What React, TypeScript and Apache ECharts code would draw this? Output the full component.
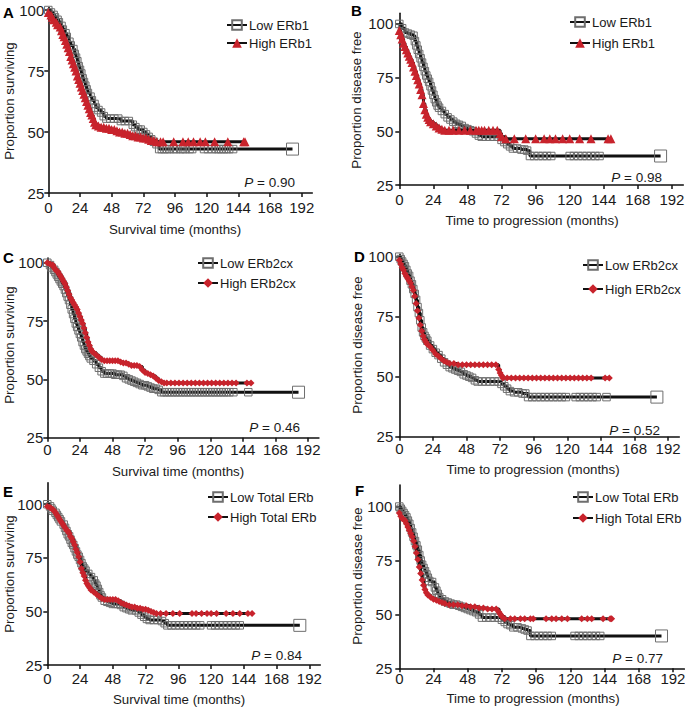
import React, { useEffect, useRef } from "react";
import * as echarts from "echarts";

// ---------- tick labels ----------
const X_TICKS = [0, 24, 48, 72, 96, 120, 144, 168, 192];
const Y_TICKS = [25, 50, 75, 100];

// ---------- text ----------
const PANEL_LETTERS = ["A", "B", "C", "D", "E", "F"];
const LOW_NAMES = ["Low ERb1", "Low ERb1", "Low ERb2cx", "Low ERb2cx", "Low Total ERb", "Low Total ERb"];
const HIGH_NAMES = ["High ERb1", "High ERb1", "High ERb2cx", "High ERb2cx", "High Total ERb", "High Total ERb"];
const P_VALUES = ["0.90", "0.98", "0.46", "0.52", "0.84", "0.77"];
const X_TITLES = [
  "Survival time (months)",
  "Time to progression (months)",
  "Survival time (months)",
  "Time to progression (months)",
  "Survival time (months)",
  "Time to progression (months)",
];
const Y_TITLES = [
  "Proportion surviving",
  "Proportion disease free",
  "Proportion surviving",
  "Proportion disease free",
  "Proportion surviving",
  "Proportion disease free",
];

// ---------- Kaplan-Meier curves: [months, percent] (events and censored points) ----------
const A_LOW = [[0,100],[2,99],[4,98],[5,97],[7,96],[8,95],[10,93.5],[11,92],[13,90.5],[14,89],[16,87],[17,85.5],[19,84],[20,82],[21,80.5],[22,79],[23,77],[24,75.5],[25,74],[26,72],[27,70.5],[28,69],[29,67.5],[30,66],[32,64.5],[33,63],[35,61.5],[36,60],[38,59],[40,58],[42,56.5],[44,55.5],[47,55.5],[50,55.5],[53,55.5],[55,54.5],[58,54.5],[61,54.5],[64,53],[66,52],[68,51],[70,51],[72,50],[74,49],[76,48],[78,47],[80,46],[82,45],[84,43],[86,43],[88,43],[90,43],[92,43],[95,43],[97,43],[100,43],[102,43],[104,43],[107,43],[109,43],[118,43],[121,43],[124,43],[127,43],[129,43],[131,43],[133,43],[135,43],[137,43],[140,43],[185,43]];
const A_HIGH = [[0,99],[2,98],[3,97],[4,96],[6,95],[7,94],[9,93],[10,91.5],[11,90],[12,89],[13,87.5],[14,86],[15,84.5],[16,83],[17,81],[18,79.5],[19,78],[20,76.5],[21,75],[22,73],[23,71.5],[24,70],[25,68.5],[26,67],[27,65.5],[28,64],[29,62.5],[30,61],[31,59.5],[32,58],[33,57],[34,55.5],[35,54],[36,53],[38,52.5],[40,52],[42,52],[44,51.5],[46,51.5],[48,51],[50,51],[52,50.5],[54,50],[56,50],[58,49.5],[60,49.5],[62,49],[64,48.5],[66,48.5],[68,48],[70,48],[72,47.5],[74,47.5],[76,47],[78,46.5],[80,46.5],[82,46],[85,46],[87,46],[95,46],[102,46],[106,46],[110,46],[115,46],[119,46],[126,46],[136,46],[148,46],[149,46]];

const B_LOW = [[0,100],[2,98],[4,96],[6,95.5],[8,95],[10,94.5],[11,92],[12,90],[13,88],[14,86],[15,84],[16,82],[17,80],[18,78],[19,76],[20,74.5],[21,73],[22,71],[23,69],[24,67],[25,65],[26,63.5],[27,62],[28,61],[30,59.5],[32,58],[34,56.5],[36,55.5],[38,54.5],[40,53.5],[42,53],[44,52.5],[46,51.5],[48,51],[50,50.5],[52,50],[54,49],[56,48],[58,47.5],[61,47.5],[64,47.5],[67,47.5],[70,47.5],[72,46],[74,45],[76,44],[78,43],[80,42],[83,42],[86,41.5],[88,41.5],[90,41],[92,38.5],[95,38.5],[98,38.5],[101,38.5],[104,38.5],[107,38.5],[120,38.5],[123,38.5],[126,38.5],[129,38.5],[132,38.5],[135,38.5],[138,38.5],[141,38.5],[184,38.5]];
const B_HIGH = [[0,97],[1,95],[2,93],[3,91],[4,89.5],[5,88],[6,86.5],[7,85],[8,83.5],[9,82],[10,80],[11,78],[12,76],[13,74],[14,72],[15,69.5],[16,67],[17,63],[18,60],[19,58],[20,56.5],[21,55.5],[22,54.5],[24,53.5],[26,52.5],[28,51.5],[30,51],[32,50.5],[35,50.5],[38,50.5],[42,50.5],[46,50.5],[50,50.5],[54,50.5],[56,50.5],[58,50.5],[60,50.5],[63,50.5],[66,50.5],[69,50.5],[71,49],[72,47.5],[75,46.5],[81,46.5],[89,46.5],[96,46.5],[102,46.5],[106,46.5],[110,46.5],[115,46.5],[120,46.5],[127,46.5],[135,46.5],[147,46.5],[149,46.5]];

const C_LOW = [[0,100],[2,99],[3,98],[5,97],[6,96],[7,95],[8,94],[9,93],[10,92],[11,91],[12,90],[13,88.5],[14,87],[15,85.5],[16,84],[17,82],[18,80],[19,78],[20,76],[21,74],[22,72.5],[23,71],[24,69.5],[25,68],[26,66],[27,64.5],[28,63],[29,62],[30,61],[31,60],[32,59],[34,58],[36,56.5],[38,55],[40,53.5],[42,52.5],[44,52.5],[46,52.5],[48,52.5],[50,52],[52,52],[54,52],[56,51.5],[58,50.5],[60,50],[62,49.5],[64,49],[66,48.5],[68,48],[70,47.5],[72,47.5],[74,47],[76,46.5],[78,46],[80,46],[82,45.5],[84,44.5],[86,44.5],[88,44.5],[90,44.5],[92,44.5],[94,44.5],[96,44.5],[98,44.5],[100,44.5],[102,44.5],[104,44.5],[106,44.5],[108,44.5],[110,44.5],[112,44.5],[114,44.5],[116,44.5],[118,44.5],[120,44.5],[122,44.5],[124,44.5],[126,44.5],[128,44.5],[130,44.5],[132,44.5],[134,44.5],[137,44.5],[148,44.5],[185,44.5]];
const C_HIGH = [[0,100],[2,99.5],[4,99],[5,98],[6,97],[7,96.5],[8,96],[9,95],[10,94],[11,93],[12,92],[13,91],[14,89.5],[15,88],[16,86.5],[17,85],[18,84],[19,83],[20,82],[21,81],[22,80],[23,78.5],[24,77],[25,75.5],[26,74],[27,72],[28,70],[29,68],[30,66],[31,64.5],[32,63],[33,62],[34,61.5],[36,60.5],[38,59.5],[40,58.5],[42,58],[44,58],[46,58],[48,58],[50,58],[52,58],[54,57.5],[56,57],[58,57],[60,56.5],[62,56],[64,56],[66,56],[68,55.5],[70,54],[72,53],[74,52.5],[76,52],[78,51.5],[80,50.5],[82,49.5],[84,49],[86,48.5],[88,48.5],[91,48.5],[94,48.5],[97,48.5],[100,48.5],[103,48.5],[106,48.5],[109,48.5],[112,48.5],[115,48.5],[118,48.5],[121,48.5],[124,48.5],[127,48.5],[130,48.5],[133,48.5],[136,48.5],[139,48.5],[147,48.5],[150,48.5]];

const D_LOW = [[0,100],[1,99],[2,98],[3,97],[4,96],[5,94.5],[6,93],[7,92],[8,90],[9,88.5],[10,86.5],[11,84.5],[12,82],[13,79],[14,76.5],[15,73.5],[16,70.5],[17,68.5],[18,67],[19,66],[20,65],[22,63],[24,61.5],[26,60],[28,59],[30,57.5],[32,56],[34,55],[36,54],[38,53.5],[40,53],[42,52.5],[44,52],[46,51],[48,50.5],[50,50],[52,49.5],[54,48.5],[56,48],[59,48],[62,48],[65,48],[68,48],[71,48],[73,47],[75,46],[77,45],[79,44],[82,43.5],[85,43.5],[88,43],[90,43],[92,41.5],[95,41.5],[98,41.5],[101,41.5],[104,41.5],[107,41.5],[110,41.5],[113,41.5],[116,41.5],[119,41.5],[126,41.5],[129,41.5],[132,41.5],[135,41.5],[138,41.5],[141,41.5],[148,41.5],[184,41.5]];
const D_HIGH = [[0,98.5],[1,97],[2,95.5],[3,94.5],[4,93],[5,92],[6,91],[7,90],[8,89],[9,87.5],[10,86],[11,83.5],[12,80.5],[13,77.5],[14,74.5],[15,71.5],[16,69],[17,67],[18,65.5],[19,64.5],[20,63.5],[22,62.5],[24,61],[26,59.5],[28,58.5],[30,57.5],[32,56.5],[34,56],[36,55.5],[39,55.5],[42,55],[45,55],[48,55],[51,55],[54,55],[57,55],[60,55],[63,55],[66,55],[69,55],[71,53],[72,51.5],[73,50.5],[74,49.5],[77,49.5],[80,49.5],[83,49.5],[86,49.5],[89,49.5],[92,49.5],[95,49.5],[98,49.5],[101,49.5],[104,49.5],[107,49.5],[110,49.5],[113,49.5],[116,49.5],[119,49.5],[122,49.5],[125,49.5],[128,49.5],[131,49.5],[134,49.5],[137,49.5],[147,49.5],[150,49.5]];

const E_LOW = [[0,100],[2,99],[3,98],[4,97],[6,96],[7,95],[8,94],[9,93],[10,92],[12,90.5],[13,89],[14,87.5],[15,86],[16,85],[17,83.5],[18,82],[19,81],[20,79.5],[21,78],[22,76.5],[23,75.5],[24,74],[25,72.5],[26,71],[27,70],[28,69],[30,67.5],[32,66],[34,64.5],[35,63],[36,62],[37,60.5],[38,59],[39,57.5],[40,56.5],[42,55],[44,54.5],[46,54],[48,53.5],[50,53.5],[52,53.5],[54,53],[56,52],[58,51.5],[60,51],[62,50.5],[65,50.5],[67,49.5],[69,48.5],[71,47.5],[73,46.5],[75,46],[78,46],[81,46],[84,45.5],[86,44.5],[88,43.5],[91,43.5],[94,43.5],[97,43.5],[100,43.5],[103,43.5],[106,43.5],[109,43.5],[112,43.5],[120,43.5],[123,43.5],[126,43.5],[129,43.5],[132,43.5],[135,43.5],[138,43.5],[141,43.5],[185,43.5]];
const E_HIGH = [[0,99],[2,98.5],[3,98],[4,97.5],[5,97],[6,96],[7,95],[8,94],[9,93],[10,92],[11,91],[12,90],[13,89],[14,88],[15,87.5],[16,86.5],[17,85],[18,84],[19,82.5],[20,81],[21,79],[22,77.5],[23,75.5],[24,73],[25,70],[26,68],[27,66.5],[28,64.5],[29,63],[30,62],[31,61],[32,60],[34,59],[36,58],[38,57],[40,56],[42,55.5],[44,55.5],[46,55.5],[48,55.5],[50,55.5],[52,55],[54,54],[56,53.5],[58,53],[60,52.5],[62,52],[64,52],[66,51.5],[68,51.5],[70,51],[72,51],[74,50.5],[76,50],[78,49.5],[80,49],[83,49],[87,49],[92,49],[97,49],[106,49],[109,49],[113,49],[117,49],[120,49],[124,49],[131,49],[136,49],[141,49],[147,49],[150,49]];

const F_LOW = [[0,100],[1,99],[2,98],[3,97],[4,96],[5,95],[6,93.5],[7,92],[8,90],[9,88],[10,86],[11,84],[12,82],[13,80],[14,77.5],[15,75],[16,73],[17,71.5],[18,70],[19,68.5],[20,67],[21,65.5],[23,65],[25,62.5],[26,61],[27,59.5],[28,58],[30,57],[32,56],[34,55.5],[36,55],[38,54.5],[40,54.5],[42,54],[44,53.5],[46,53],[48,52.5],[50,52],[52,51.5],[54,51],[56,50],[58,48.5],[61,48.5],[64,48.5],[67,48.5],[70,48.5],[72,47.5],[74,46.5],[76,45.5],[78,45],[80,44],[83,44],[86,43.5],[88,43],[90,42.5],[92,40],[95,40],[98,40],[101,40],[104,40],[107,40],[123,40],[126,40],[129,40],[132,40],[135,40],[138,40],[141,40],[184,40]];
const F_HIGH = [[0,97],[1,95.5],[2,94.5],[3,94],[4,93.5],[5,92],[6,90.5],[7,89],[8,87.5],[9,86],[10,84],[11,81.5],[12,78.5],[13,75.5],[14,72],[15,69],[16,66],[17,63.5],[18,61.5],[19,60],[20,59],[22,58],[24,57],[26,56.5],[28,56],[30,55.5],[32,55],[35,54.5],[38,54.5],[41,54.5],[44,54],[47,54],[50,53.5],[53,53.5],[56,53],[59,53],[62,52.5],[65,52.5],[68,52.5],[70,51],[71,50],[72,49],[74,48],[78,48],[81,48],[85,48],[88,48],[92,48],[94,48],[103,48],[107,48],[110,48],[114,48],[118,48],[128,48],[132,48],[135,48],[143,48],[148,48],[149,48]];

const LOW_DATA = [A_LOW, B_LOW, C_LOW, D_LOW, E_LOW, F_LOW];
const HIGH_DATA = [A_HIGH, B_HIGH, C_HIGH, D_HIGH, E_HIGH, F_HIGH];

// ---------- layout (pixels) ----------
const LAYOUT = [
  { grid: { left: 48.3, top: 7.6, width: 264, height: 185.4 }, yMax: 101, xm: 7, ym: 4, letter: [3, 12], yT: [9.5, 101], xT: [175, 229], lg: [226, 25, 43], p: [295, 182] },
  { grid: { left: 399.3, top: 13.2, width: 284, height: 171.8 }, yMax: 105, xm: 7, ym: 6, letter: [351, 10], yT: [356, 100], xT: [532, 220], lg: [569, 22, 43], p: [662, 177] },
  { grid: { left: 47.3, top: 258.1, width: 271.6, height: 179.6 }, yMax: 102, xm: 4, ym: 4, letter: [3, 257], yT: [9, 345], xT: [178, 471], lg: [197, 263, 283], p: [300, 427] },
  { grid: { left: 399.3, top: 254.3, width: 280, height: 182.4 }, yMax: 101, xm: 4, ym: 6, letter: [354, 256], yT: [357, 345], xT: [533, 469], lg: [582, 265, 289], p: [660, 430] },
  { grid: { left: 47.3, top: 482.8, width: 273, height: 182.2 }, yMax: 110, xm: 6, ym: 5, letter: [3, 491], yT: [9, 574], xT: [179, 699], lg: [207, 497, 517], p: [302, 655] },
  { grid: { left: 399.3, top: 485, width: 285, height: 183.3 }, yMax: 110, xm: 3, ym: 7, letter: [355, 490], yT: [357, 576], xT: [533, 698], lg: [572, 497, 518], p: [663, 658] },
];

const FF = '"Liberation Sans", Arial, Helvetica, sans-serif';
const INK = "#1a1a1a";
const RED = "#c8232c";
const TICK_FS = 15;
const TITLE_FS = 13.3;

function buildOption() {
  const grid: any[] = [];
  const xAxis: any[] = [];
  const yAxis: any[] = [];
  const series: any[] = [];
  const legend: any[] = [];
  const graphics: any[] = [];

  LAYOUT.forEach((L, i) => {
    grid.push({ ...L.grid, containLabel: false, outerBoundsMode: "none" });
    xAxis.push({
      type: "value", gridIndex: i, min: 0, max: 200, interval: 24,
      axisLine: { show: true, onZero: false, lineStyle: { color: "#111", width: 1.6 } },
      axisTick: { show: true, length: 4, customValues: X_TICKS, lineStyle: { color: "#111", width: 1.5 } },
      axisLabel: { customValues: X_TICKS, fontSize: TICK_FS, fontFamily: FF, color: INK, margin: L.xm },
      splitLine: { show: false },
    });
    yAxis.push({
      type: "value", gridIndex: i, min: 25, max: L.yMax, interval: 25,
      axisLine: { show: true, onZero: false, lineStyle: { color: "#111", width: 1.6 } },
      axisTick: { show: true, length: 4, customValues: Y_TICKS, lineStyle: { color: "#111", width: 1.5 } },
      axisLabel: { customValues: Y_TICKS, fontSize: TICK_FS, fontFamily: FF, color: INK, margin: L.ym },
      splitLine: { show: false },
    });

    const low = LOW_DATA[i];
    series.push({
      type: "line", name: LOW_NAMES[i], xAxisIndex: i, yAxisIndex: i, step: "end",
      data: low.map((p, k) => (k === low.length - 1 ? { value: p, symbolSize: 12 } : p)),
      symbol: "rect", symbolSize: 7.5, showSymbol: true,
      lineStyle: { color: "#111", width: 3 },
      itemStyle: { color: "rgba(255,255,255,0)", borderColor: "#6e6e6e", borderWidth: 1 },
      emphasis: { disabled: true }, silent: true, z: 2,
    });
    const tri = i < 2;
    series.push({
      type: "line", name: HIGH_NAMES[i], xAxisIndex: i, yAxisIndex: i, step: "end",
      data: HIGH_DATA[i],
      symbol: tri ? "triangle" : "diamond", symbolSize: tri ? 9 : 7, showSymbol: true,
      lineStyle: { color: "#111", width: 3 },
      itemStyle: { color: RED },
      emphasis: { disabled: true }, silent: true, z: 3,
    });

    [LOW_NAMES[i], HIGH_NAMES[i]].forEach((nm, k) => {
      legend.push({
        data: [nm], left: L.lg[0], top: L.lg[1 + k] - 6.5, padding: 0,
        itemWidth: 20, itemHeight: 12, selectedMode: false,
        textStyle: { fontSize: 13, fontFamily: FF, color: INK, padding: [0, 0, 0, -3] },
      });
    });

    graphics.push(
      { type: "text", x: L.letter[0], y: L.letter[1], silent: true,
        style: { text: PANEL_LETTERS[i], fontSize: 15, fontWeight: "bold", fontFamily: FF, fill: "#000", align: "left", verticalAlign: "middle" } },
      { type: "text", x: L.yT[0], y: L.yT[1], rotation: Math.PI / 2, silent: true,
        style: { text: Y_TITLES[i], fontSize: TITLE_FS, fontFamily: FF, fill: INK, align: "center", verticalAlign: "middle" } },
      { type: "text", x: L.xT[0], y: L.xT[1], silent: true,
        style: { text: X_TITLES[i], fontSize: TITLE_FS, fontFamily: FF, fill: INK, align: "center", verticalAlign: "middle" } },
      { type: "text", x: L.p[0], y: L.p[1], silent: true,
        style: { text: "{i|P} = " + P_VALUES[i], fontSize: 13.5, fontFamily: FF, fill: INK, align: "right", verticalAlign: "middle",
          rich: { i: { fontStyle: "italic", fontSize: 13.5, fontFamily: FF, fill: INK } } } },
    );
  });

  return {
    animation: false,
    backgroundColor: "#ffffff",
    grid, xAxis, yAxis, series, legend,
    graphic: { elements: graphics },
  };
}

export default function App() {
  const ref = useRef<HTMLDivElement>(null);
  useEffect(() => {
    if (!ref.current) return;
    const chart = echarts.init(ref.current, null, { renderer: "svg" });
    chart.setOption(buildOption() as any);
    return () => chart.dispose();
  }, []);
  return (
    <div
      ref={ref}
      style={{ position: "fixed", left: 0, top: 0, width: 685, height: 710, background: "#fff" }}
    />
  );
}
